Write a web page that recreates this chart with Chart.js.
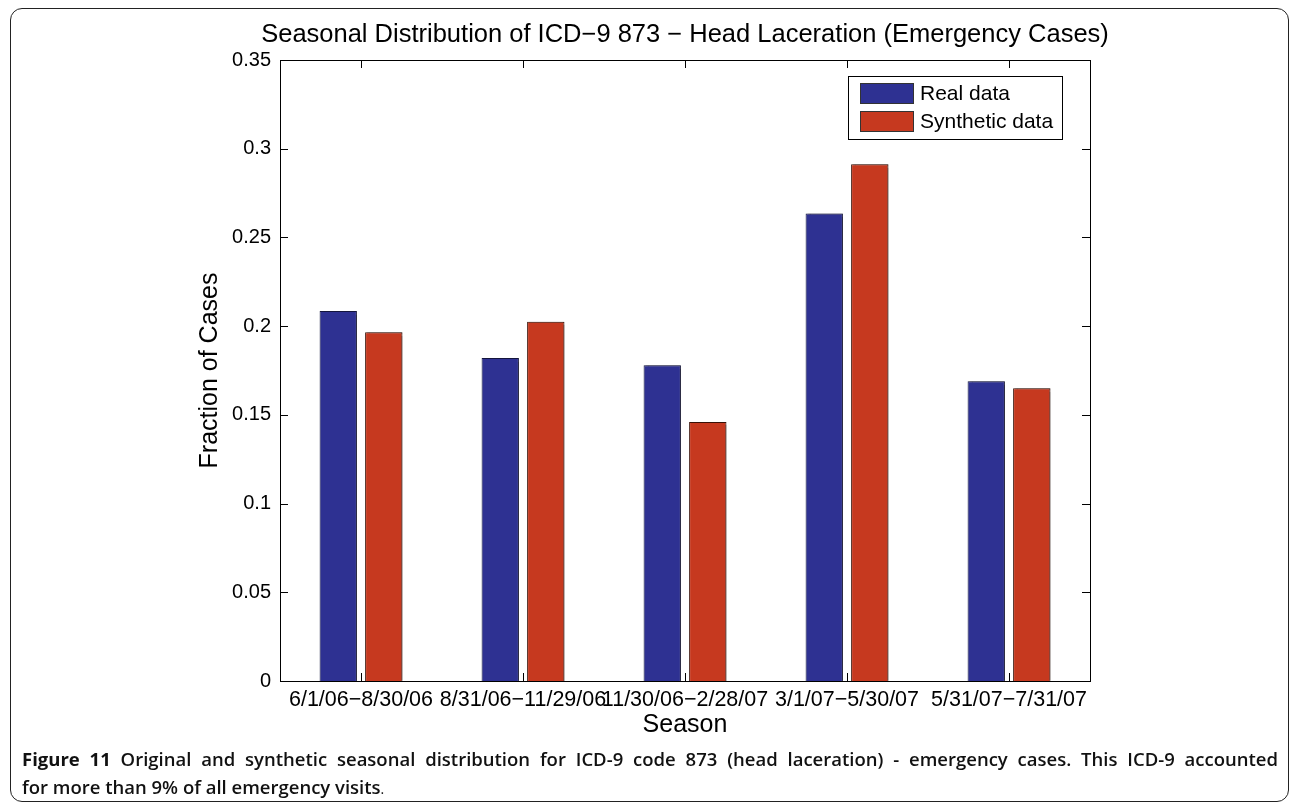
<!DOCTYPE html>
<html>
<head>
<meta charset="utf-8">
<script src="https://cdn.jsdelivr.net/npm/chart.js@4/dist/chart.umd.min.js"></script>
<style>
  html, body { margin: 0; padding: 0; background: #fff; }
  body { width: 1290px; height: 803px; position: relative; overflow: hidden; }
  #frame {
    position: absolute; left: 10px; top: 8px; width: 1277px; height: 792px;
    border: 1.5px solid #222; border-radius: 12px; pointer-events: none;
  }
  #chart { position: absolute; left: 0; top: 0; }
  .caption {
    position: absolute; left: 22px; width: 1256px;
    font-family: "Open Sans", sans-serif; font-size: 18.5px; font-weight: 600;
    color: #111; line-height: 28px; white-space: nowrap;
  }
  #cap1 { top: 745px; text-align: justify; text-align-last: justify; white-space: normal; }
  #cap2 { top: 773px; }
  .caption b { font-weight: 700; }
  .caption .dot { font-weight: 400; font-size: 14px; }
</style>
</head>
<body>
<canvas id="chart" width="1290" height="803"></canvas>
<div id="frame"></div>
<div class="caption" id="cap1"><b>Figure 11</b> Original and synthetic seasonal distribution for ICD-9 code 873 (head laceration) - emergency cases. This ICD-9 accounted</div>
<div class="caption" id="cap2">for more than 9% of all emergency visits<span class="dot">.</span></div>
<script>
// Seasonal distribution, fraction of cases per season
const seasons = ['6/1/06\u22128/30/06', '8/31/06\u221211/29/06', '11/30/06\u22122/28/07', '3/1/07\u22125/30/07', '5/31/07\u22127/31/07'];
const realData = [0.2085, 0.182, 0.178, 0.2635, 0.169];
const syntheticData = [0.1965, 0.2025, 0.146, 0.2912, 0.165];
const yTicks = [0, 0.05, 0.1, 0.15, 0.2, 0.25, 0.3, 0.35];
const chartTitle = 'Seasonal Distribution of ICD\u22129 873 \u2212 Head Laceration (Emergency Cases)';

const FONT = '"Liberation Sans", Arial, sans-serif';

// title centred over the plot (the built-in one squeezes text to the box width)
const plotTitle = {
  id: 'plotTitle',
  afterDraw(chart) {
    const ctx = chart.ctx;
    const a = chart.chartArea;
    ctx.save();
    ctx.font = '25.5px ' + FONT;
    ctx.fillStyle = '#000';
    ctx.textAlign = 'center';
    ctx.textBaseline = 'middle';
    ctx.fillText(chartTitle, (a.left + a.right) / 2, a.top - 25);
    ctx.restore();
  }
};

// box around the plot + inward tick marks (matlab style)
const frameTicks = {
  id: 'frameTicks',
  afterDraw(chart) {
    const ctx = chart.ctx;
    const a = chart.chartArea;
    const x = chart.scales.x, y = chart.scales.y;
    const len = 8;
    ctx.save();
    ctx.strokeStyle = '#000';
    ctx.lineWidth = 1;
    ctx.strokeRect(a.left + 0.5, a.top + 0.5, a.right - a.left, a.bottom - a.top);
    ctx.beginPath();
    yTicks.forEach(v => {
      const py = Math.round(y.getPixelForValue(v)) + 0.5;
      ctx.moveTo(a.left, py); ctx.lineTo(a.left + len, py);
      ctx.moveTo(a.right, py); ctx.lineTo(a.right - len, py);
    });
    seasons.forEach((s, i) => {
      const px = Math.round(x.getPixelForValue(i)) + 0.5;
      ctx.moveTo(px, a.bottom); ctx.lineTo(px, a.bottom - len);
      ctx.moveTo(px, a.top); ctx.lineTo(px, a.top + len);
    });
    ctx.stroke();
    ctx.restore();
  }
};

// slight gray shadow to the right of each bar
const barShadow = {
  id: 'barShadow',
  beforeDatasetsDraw(chart) {
    const ctx = chart.ctx;
    ctx.save();
    ctx.shadowColor = 'rgba(0, 0, 0, 0.35)';
    ctx.shadowOffsetX = 2;
    ctx.shadowOffsetY = 0;
    ctx.shadowBlur = 1;
  },
  afterDatasetsDraw(chart) {
    chart.ctx.restore();
  }
};

// legend box inside top right of plot
const boxLegend = {
  id: 'boxLegend',
  afterDraw(chart) {
    const ctx = chart.ctx;
    const a = chart.chartArea;
    const w = 214, h = 63;
    const left = a.right - 28 - w, top = a.top + 16;
    ctx.save();
    ctx.fillStyle = '#fff';
    ctx.fillRect(left, top, w, h);
    ctx.strokeStyle = '#000';
    ctx.lineWidth = 1;
    ctx.strokeRect(left + 0.5, top + 0.5, w, h);
    ctx.font = '21px ' + FONT;
    ctx.textBaseline = 'middle';
    chart.data.datasets.forEach((ds, i) => {
      const sy = top + 7 + i * 28;
      ctx.fillStyle = ds.backgroundColor;
      ctx.fillRect(left + 12, sy, 53, 20);
      ctx.strokeStyle = '#333';
      ctx.strokeRect(left + 12.5, sy + 0.5, 53, 20);
      ctx.fillStyle = '#000';
      ctx.fillText(ds.label, left + 72, sy + 11);
    });
    ctx.restore();
  }
};

new Chart(document.getElementById('chart'), {
  type: 'bar',
  data: {
    labels: seasons,
    datasets: [
      {
        label: 'Real data',
        data: realData,
        backgroundColor: 'rgb(46, 49, 146)',
        borderColor: '#15163f',
        borderWidth: 1,
        categoryPercentage: 0.562,
        barPercentage: 0.82,
      },
      {
        label: 'Synthetic data',
        data: syntheticData,
        backgroundColor: 'rgb(198, 57, 31)',
        borderColor: '#3a1208',
        borderWidth: 1,
        categoryPercentage: 0.562,
        barPercentage: 0.82,
      }
    ]
  },
  options: {
    responsive: false,
    animation: false,
    layout: {
      padding: { left: 190, right: 200, top: 60, bottom: 62 }
    },
    plugins: {
      legend: { display: false },
      tooltip: { enabled: false },
      title: { display: false }
    },
    scales: {
      y: {
        min: 0,
        max: 0.35,
        afterFit: function(scale) { scale.width = 90; },
        afterBuildTicks: function(scale) { scale.ticks = yTicks.map(v => ({ value: v })); },
        grid: { display: false, drawTicks: false },
        border: { display: false },
        ticks: {
          color: '#000',
          padding: 9,
          font: { family: FONT, size: 20 },
          callback: function(value) { return String(+value.toFixed(2)); }
        },
        title: {
          display: true,
          text: 'Fraction of Cases',
          color: '#000',
          font: { family: FONT, size: 25 },
          padding: { top: 5, bottom: 0 }
        }
      },
      x: {
        afterFit: function(scale) { scale.height = 60; },
        grid: { display: false, drawTicks: false },
        border: { display: false },
        ticks: {
          color: '#000',
          padding: 6,
          autoSkip: false,
          maxRotation: 0,
          font: { family: FONT, size: 21.5 }
        },
        title: {
          display: true,
          text: 'Season',
          color: '#000',
          font: { family: FONT, size: 25 },
          padding: { top: 0, bottom: 1 }
        }
      }
    }
  },
  plugins: [barShadow, frameTicks, boxLegend, plotTitle]
});
</script>
</body>
</html>
